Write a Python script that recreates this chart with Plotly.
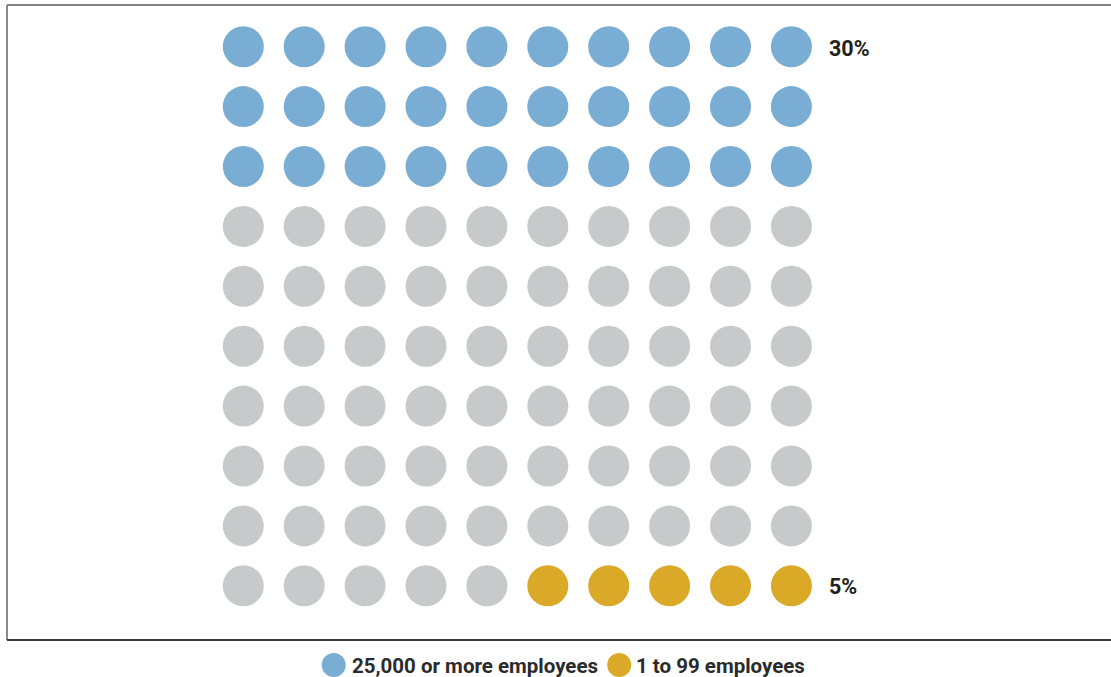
import plotly.graph_objects as go

# Share of companies by size, shown as a 10 x 10 grid of dots (1 dot = 1%)
groups = ["25,000 or more employees", "1 to 99 employees"]
shares = [30, 5]
colors = ["#7AADD4", "#DAA928"]
rest_color = "#C8C9CB"

n_cols = 10
n_rows = 10
total = n_cols * n_rows

# Assign each cell: large firms fill from the top-left, small firms from the bottom-right
cell_color = [rest_color] * total
for i in range(shares[0]):
    cell_color[i] = colors[0]
for i in range(shares[1]):
    cell_color[total - 1 - i] = colors[1]

xs = [i % n_cols for i in range(total)]
ys = [i // n_cols for i in range(total)]

W, H = 1111, 677
col_px0, col_step = 243.3, 60.9
row_px0, row_step = 46.7, 59.9

fig = go.Figure()
fig.add_trace(go.Scatter(
    x=xs, y=ys, mode="markers",
    marker=dict(size=41, color=cell_color, line=dict(width=0)),
    hoverinfo="skip", showlegend=False,
))

font = dict(family="Roboto, Arial, sans-serif", color="#231F20")

# Percentage labels to the right of the first and last rows
annotations = [
    dict(x=n_cols - 1, y=0, xref="x", yref="y", text=f"<b>{shares[0]}%</b>",
         showarrow=False, xanchor="left", xshift=36, yshift=-2, font=dict(size=21.5, **font)),
    dict(x=n_cols - 1, y=n_rows - 1, xref="x", yref="y", text=f"<b>{shares[1]}%</b>",
         showarrow=False, xanchor="left", xshift=36, yshift=-1, font=dict(size=21.5, **font)),
]

# Legend drawn below the frame
legend_y = 1 - 666 / H
legend_items = [(333.7, 350), (619.2, 634)]
shapes = []
for (cx, tx), name, col in zip(legend_items, groups, colors):
    r = 12
    shapes.append(dict(type="circle", xref="paper", yref="paper",
                       x0=(cx - r) / W, x1=(cx + r) / W,
                       y0=1 - (665 + r) / H, y1=1 - (665 - r) / H,
                       fillcolor=col, line=dict(width=0)))
    annotations.append(dict(x=tx / W, y=legend_y, xref="paper", yref="paper",
                            text=f"<b>{name}</b>", showarrow=False,
                            xanchor="left", yanchor="middle",
                            font=dict(size=20.5, family=font["family"], color="#2B2B2B")))

# Frame around the grid
fx0 = 7 / W
fy_top = 1 - 5 / H
fy_bot = 1 - 640 / H
shapes += [
    dict(type="line", xref="paper", yref="paper", x0=fx0, x1=1.01, y0=fy_top, y1=fy_top,
         line=dict(color="#808080", width=2)),
    dict(type="line", xref="paper", yref="paper", x0=fx0, x1=fx0, y0=fy_bot, y1=fy_top,
         line=dict(color="#8A8A8A", width=2)),
    dict(type="line", xref="paper", yref="paper", x0=fx0, x1=1.01, y0=fy_bot, y1=fy_bot,
         line=dict(color="#3A3A3A", width=2)),
]

fig.update_layout(
    width=W, height=H,
    margin=dict(l=0, r=0, t=0, b=0),
    paper_bgcolor="white", plot_bgcolor="white",
    xaxis=dict(range=[-col_px0 / col_step, (W - col_px0) / col_step],
               visible=False, fixedrange=True),
    yaxis=dict(range=[(H - row_px0) / row_step, -row_px0 / row_step],
               visible=False, fixedrange=True),
    annotations=annotations,
    shapes=shapes,
)

fig.write_html("out.html")
